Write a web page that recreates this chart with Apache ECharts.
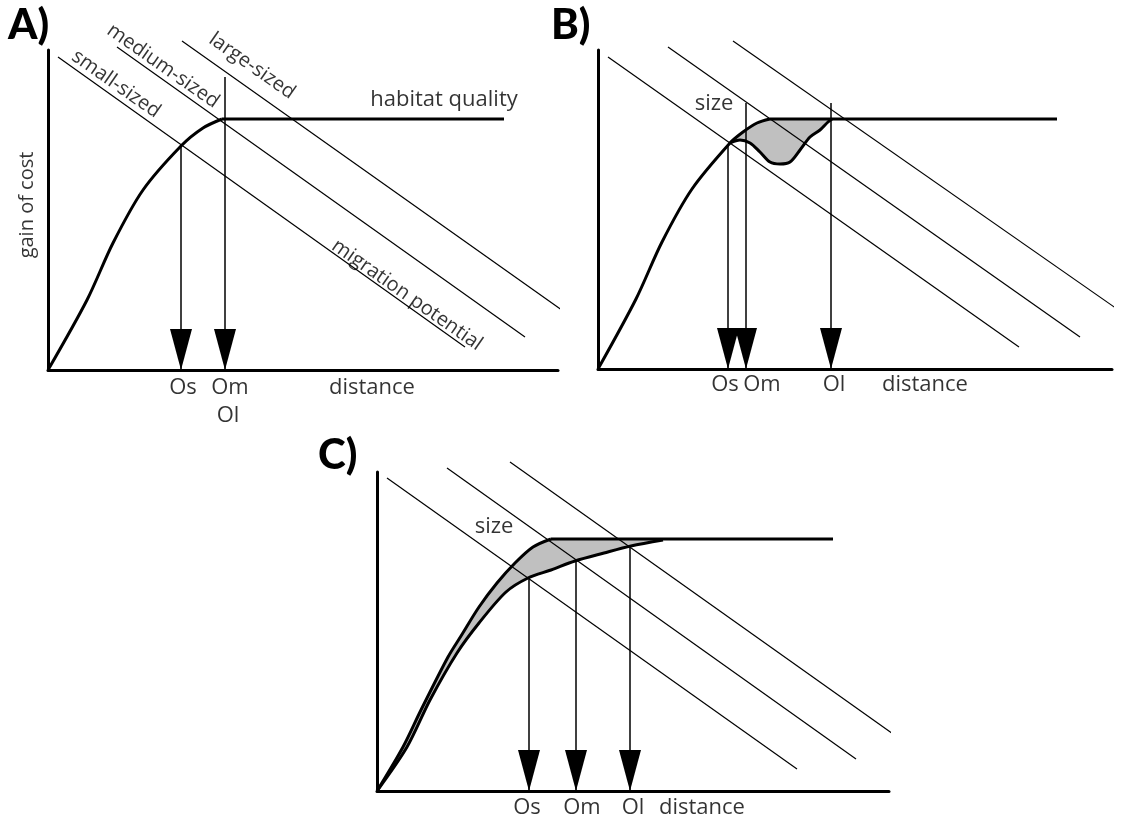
<!DOCTYPE html>
<html>
<head>
<meta charset="utf-8">
<title>migration potential and habitat quality</title>
<script src="https://cdn.jsdelivr.net/npm/echarts@6/dist/echarts.min.js"></script>
<style>
  html, body { margin: 0; padding: 0; background: #fff; }
  #main { width: 1133px; height: 820px; }
</style>
</head>
<body>
<div id="main"></div>
<script>
// every panel: x = distance, y = gain of cost (units of the axis, origin at the corner)

// A) one habitat quality curve
var aCurve = [[0,0],[39,70],[65,127],[95,180],[133,224],[155,242],[174,251]];
var aPlateau = [[174,251],[456,251]];
var aSmall = [[10,313],[417,23]];
var aMedium = [[69,323],[477,33]];
var aLarge = [[134,329],[542,40]];
var aArrowX = [133,177];
var aArrowTop = [224,293];
var aTicks = [['Os',135,-18],['Om',182,-18],['Ol',180,-46],['distance',324,-18]];
var aNotes = [['habitat quality',396,270,0],['small-sized',68,286,-35],['medium-sized',115,304,-35],
              ['large-sized',204,304,-35],['migration potential',359,75,-35],['gain of cost',-21,165,90]];

// B) dip in the curve between small and large
var bCurve = [[0,0],[38,70],[64,127],[94,180],[132,226],[145,237],[159,246],[172,250]];
var bPlateau = [[172,250],[459,250]];
var bDip = [[132,226],[142,229],[152,226],[162,217],[172,207],[182,205],[192,207],[202,219],[212,232],[222,239],[230,247],[234,250]];
var bSmall = [[10,312],[421,22]];
var bMedium = [[70,322],[482,32]];
var bLarge = [[135,328],[542,44]];
var bArrowX = [130,148,233];
var bArrowTop = [224,266,266];
var bTicks = [['Os',127,-16],['Om',164,-16],['Ol',236,-16],['distance',327,-16]];
var bNotes = [['size',116,265,0]];

// C) size dependent curve, band between upper and lower
var cOuter = [[0,0],[26,44],[44,81],[71,134],[84,155],[102,184],[120,208],[138,228],[156,244],[174,252]];
var cPlateau = [[174,252],[456,252]];
var cInner = [[0,0],[30,44],[53,91],[80,138],[102,168],[129,199],[151,213],[174,221],[198,230],[227,238],[254,245],[286,251]];
var cSmall = [[10,313],[420,22]];
var cMedium = [[70,323],[479,32]];
var cLarge = [[133,329],[543,38]];
var cArrowX = [152,199,253];
var cArrowTop = [213,230,245];
var cTicks = [['Os',150,-17],['Om',205,-17],['Ol',256,-17],['distance',325,-17]];
var cNotes = [['size',117,264,0]];

var FONT = '"Open Sans"';

function panel(idx, p) {
    var list = [];
    function line(data, width, smooth) {
        list.push({
            type: 'line', xAxisIndex: idx, yAxisIndex: idx, data: data,
            symbol: 'none', smooth: smooth || false, clip: false,
            lineStyle: { color: '#000', width: width }, silent: true, z: 3
        });
    }
    if (p.fill) {
        var poly = p.fill;
        list.push({
            type: 'custom', xAxisIndex: idx, yAxisIndex: idx, data: [[0, 0]], z: 1, silent: true,
            renderItem: function (params, api) {
                return {
                    type: 'polygon',
                    shape: { points: poly.map(function (d) { return api.coord(d); }) },
                    style: { fill: '#c0c0c0', stroke: null }
                };
            }
        });
    }
    p.curves.forEach(function (c) { line(c, 3, 0.3); });
    line(p.plateau, 3);
    p.diag.forEach(function (d) { line(d, 1.2); });
    p.arrowX.forEach(function (x, i) { line([[x, p.arrowTop[i]], [x, 0]], 1.5); });
    list.push({
        type: 'scatter', xAxisIndex: idx, yAxisIndex: idx, silent: true, clip: false, z: 4,
        data: p.arrowX.map(function (x) { return [x, 0]; }),
        symbol: 'triangle', symbolRotate: 180, symbolSize: [22, 41], symbolOffset: [0, '-50%'],
        itemStyle: { color: '#000', opacity: 1 }
    });
    var texts = p.ticks.map(function (t) { return { name: t[0], value: [t[1], t[2]] }; })
        .concat(p.notes.map(function (t) {
            var size = t[3] === 0 ? 22 : (t[3] === 90 ? 20 : 20);
            return { name: t[0], value: [t[1], t[2]], label: { rotate: t[3], fontSize: size } };
        }));
    list.push({
        type: 'scatter', xAxisIndex: idx, yAxisIndex: idx, silent: true, clip: false, z: 5,
        data: texts, symbolSize: 1, itemStyle: { color: 'transparent' },
        label: { show: true, position: 'inside', formatter: '{b}', color: '#000', fontSize: 22, fontFamily: FONT }
    });
    return list;
}

function axis(max) {
    return {
        type: 'value', min: 0, max: max,
        axisLine: { show: true, onZero: false, lineStyle: { color: '#000', width: 3 } },
        axisTick: { show: false }, axisLabel: { show: false }, splitLine: { show: false }
    };
}

var grids = [
    { left: 48, top: 50, width: 510, height: 320 },
    { left: 598, top: 50, width: 514, height: 319 },
    { left: 377, top: 472, width: 512, height: 319 }
];
var xAxes = grids.map(function (g, i) { var a = axis(g.width); a.gridIndex = i; return a; });
var yAxes = grids.map(function (g, i) { var a = axis(g.height); a.gridIndex = i; return a; });

var series = [].concat(
    panel(0, { curves: [aCurve], plateau: aPlateau, diag: [aSmall, aMedium, aLarge],
               arrowX: aArrowX, arrowTop: aArrowTop, ticks: aTicks, notes: aNotes }),
    panel(1, { curves: [bCurve, bDip], plateau: bPlateau, diag: [bSmall, bMedium, bLarge],
               arrowX: bArrowX, arrowTop: bArrowTop, ticks: bTicks, notes: bNotes,
               fill: bCurve.slice(4).concat([bDip[bDip.length - 1]], bDip.slice().reverse()) }),
    panel(2, { curves: [cOuter, cInner], plateau: cPlateau, diag: [cSmall, cMedium, cLarge],
               arrowX: cArrowX, arrowTop: cArrowTop, ticks: cTicks, notes: cNotes,
               fill: cOuter.concat(cInner.slice().reverse()) })
);

function panelTitle(text, left, top) {
    return { text: text, left: left, top: top, padding: 0,
             textStyle: { fontSize: 42, fontWeight: 900, fontFamily: 'Lato', color: '#000' } };
}

var option = {
    animation: false,
    backgroundColor: '#fff',
    title: [panelTitle('A)', 8, 4), panelTitle('B)', 551, 4), panelTitle('C)', 318, 434)],
    grid: grids,
    xAxis: xAxes,
    yAxis: yAxes,
    series: series
};

var myChart = echarts.init(document.getElementById('main'));
myChart.setOption(option);
</script>
</body>
</html>
